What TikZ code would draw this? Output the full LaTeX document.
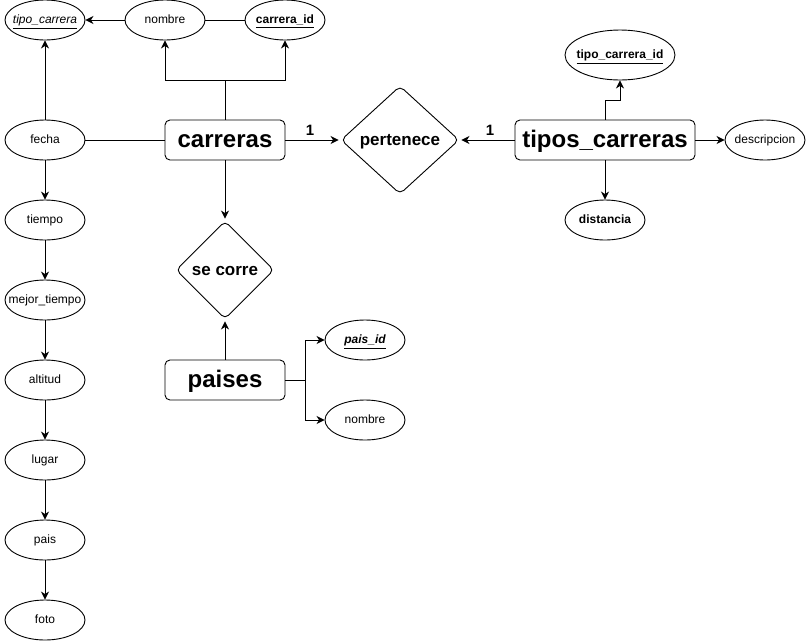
\documentclass[tikz,border=0pt]{standalone}
\usepackage{fontspec}
\setmainfont{Liberation Sans}
\usetikzlibrary{shapes.geometric,arrows.meta}

\tikzset{
  every path/.style={line width=0.9pt},
  attr/.style={draw, ellipse, minimum width=80pt, minimum height=40pt,
    inner xsep=-14pt, inner ysep=0pt,
    text height=9.6pt, text depth=1.8pt, font=\fontsize{12}{14}\selectfont},
  keyattr/.style={attr, font=\fontsize{12}{14}\selectfont\bfseries},
  entity/.style={draw, rounded corners=5pt, minimum width=120pt, minimum height=40pt,
    inner sep=0pt, text height=19.2pt, text depth=3.6pt,
    font=\fontsize{24}{28}\selectfont\bfseries},
  relation/.style={draw, diamond, rounded corners=5pt, inner sep=0pt,
    text height=13.6pt, text depth=2.6pt, font=\fontsize{17}{20}\selectfont\bfseries},
  card/.style={font=\fontsize{15}{17}\selectfont\bfseries},
  arr/.style={-{Stealth[length=8pt,width=8pt,inset=2.5pt]}},
}

\begin{document}
\begin{tikzpicture}[x=1pt,y=-1pt]
  \useasboundingbox (0,0) rectangle (806,641);

  % entities
  \node[entity] (carreras) at (225,140) {carreras};
  \node[entity, minimum width=180pt] (tipos) at (605,140) {tipos\_carreras};
  \node[entity] (paises) at (225,380) {paises};

  % relationships
  \node[relation, minimum width=118pt, minimum height=108pt] (pertenece) at (400,140) {pertenece};
  \node[relation, minimum width=98pt, minimum height=98pt] (secorre) at (225,270) {se corre};

  % attributes of carreras
  \node[attr] (tipocarrera) at (45,20) {\underline{\itshape tipo\_carrera}};
  \node[attr] (nombre) at (165,20) {nombre};
  \node[keyattr] (carreraid) at (285,20) {\underline{carrera\_id}};
  \node[attr] (fecha) at (45,140) {fecha};
  \node[attr] (tiempo) at (45,220) {tiempo};
  \node[attr] (mejortiempo) at (45,300) {mejor\_tiempo};
  \node[attr] (altitud) at (45,380) {altitud};
  \node[attr] (lugar) at (45,460) {lugar};
  \node[attr] (pais) at (45,540) {pais};
  \node[attr] (foto) at (45,620) {foto};

  % attributes of tipos_carreras
  \node[keyattr, minimum width=110pt, minimum height=50pt] (tipocarreraid) at (620,55) {\underline{tipo\_carrera\_id}};
  \node[attr] (descripcion) at (765,140) {descripcion};
  \node[keyattr] (distancia) at (605,220) {distancia};

  % attributes of paises
  \node[attr] (paisid) at (365,340) {\underline{\itshape\bfseries pais\_id}};
  \node[attr] (paisnombre) at (365,420) {nombre};

  % junction points
  \coordinate (cj) at (225,80);
  \coordinate (tj) at (605,100);
  \coordinate (pj) at (305,380);

  % connectors around carreras
  \draw (carreras.north) -- (cj);
  \draw[arr] (cj) -| (nombre.south);
  \draw[arr] (cj) -| (carreraid.south);
  \draw (carreraid.west) -- (nombre.east);
  \draw[arr] (nombre.west) -- (tipocarrera.east);
  \draw (carreras.west) -- (fecha.east);
  \draw[arr] (fecha.north) -- (tipocarrera.south);
  \draw[arr] (fecha.south) -- (tiempo.north);
  \draw[arr] (tiempo.south) -- (mejortiempo.north);
  \draw[arr] (mejortiempo.south) -- (altitud.north);
  \draw[arr] (altitud.south) -- (lugar.north);
  \draw[arr] (lugar.south) -- (pais.north);
  \draw[arr] (pais.south) -- (foto.north);

  % relationship pertenece
  \draw[arr, shorten >=2pt] (carreras.east) -- (pertenece.west);
  \draw[arr, shorten >=2pt] (tipos.west) -- (pertenece.east);
  \node[card] (c1) at (310,130) {1};
  \node[card] (c2) at (490,130) {1};

  % connectors around tipos_carreras
  \draw (tipos.north) -- (tj);
  \draw[arr] (tj) -| (tipocarreraid.south);
  \draw[arr] (tipos.east) -- (descripcion.west);
  \draw[arr] (tipos.south) -- (distancia.north);

  % relationship se corre
  \draw[arr, shorten >=2pt] (carreras.south) -- (secorre.north);
  \draw[arr, shorten >=2pt] (paises.north) -- (secorre.south);

  % connectors around paises
  \draw (paises.east) -- (pj);
  \draw[arr] (pj) |- (paisid.west);
  \draw[arr] (pj) |- (paisnombre.west);
\end{tikzpicture}
\end{document}
